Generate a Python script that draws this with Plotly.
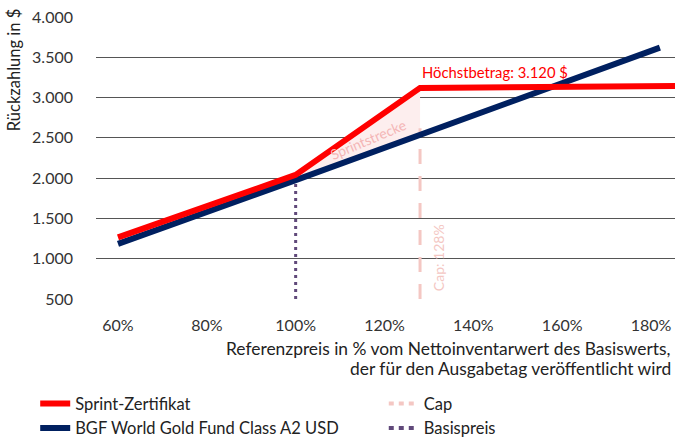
import plotly.graph_objects as go

# ---- data ----
sprint_x = [60, 100, 128, 185.4]
sprint_y = [1265, 2040, 3120, 3145]

fund_x = [60, 100, 182]
fund_y = [1185, 1975, 3620]

cap_level = 128
cap_y = [500, 2620]
basis_level = 100
basis_y = [500, 1975]

fill_x = [100, 128, 128, 100]
fill_y = [2040, 3120, 2538, 1975]

x_ticks = [60, 80, 100, 120, 140, 160, 180]
x_ticktext = ["60%", "80%", "100%", "120%", "140%", "160%", "180%"]
y_ticks = [500, 1000, 1500, 2000, 2500, 3000, 3500, 4000]
y_ticktext = ["500", "1.000", "1.500", "2.000", "2.500", "3.000", "3.500", "4.000"]

FONT = "Lato"
RED = "#ff0000"
NAVY = "#002060"
PINK = "#f4c7c3"
PURPLE = "#60497a"

fig = go.Figure()

fig.add_trace(go.Scatter(x=fill_x, y=fill_y, fill="toself", fillcolor="#fdeeee",
                         line=dict(width=0), mode="lines", showlegend=False, hoverinfo="skip"))
fig.add_trace(go.Scatter(x=[cap_level, cap_level], y=cap_y, mode="lines",
                         line=dict(color=PINK, width=3, dash="15px,12px"), showlegend=False))
fig.add_trace(go.Scatter(x=[basis_level, basis_level], y=basis_y, mode="lines",
                         line=dict(color=PURPLE, width=3, dash="3px,4px"), showlegend=False))
fig.add_trace(go.Scatter(x=fund_x, y=fund_y, mode="lines", name="BGF World Gold Fund Class A2 USD",
                         line=dict(color=NAVY, width=6), legend="legend", legendrank=2))
fig.add_trace(go.Scatter(x=sprint_x, y=sprint_y, mode="lines", name="Sprint-Zertifikat",
                         line=dict(color=RED, width=6), legend="legend", legendrank=1))
fig.add_trace(go.Scatter(x=[None], y=[None], mode="lines", name="Cap",
                         line=dict(color=PINK, width=4, dash="5px,5px"), legend="legend2", legendrank=1))
fig.add_trace(go.Scatter(x=[None], y=[None], mode="lines", name="Basispreis",
                         line=dict(color=PURPLE, width=4, dash="5px,5px"), legend="legend2", legendrank=2))

fig.update_layout(
    width=675, height=441,
    margin=dict(l=96, r=0, t=17, b=142),
    paper_bgcolor="white", plot_bgcolor="white",
    font=dict(family=FONT, size=15, color="#333333"),
    xaxis=dict(range=[55.05, 185.4], tickvals=x_ticks, ticktext=x_ticktext,
               showgrid=False, zeroline=False, showline=False,
               ticklabelstandoff=15, tickfont=dict(size=16, color="#333333")),
    yaxis=dict(range=[500, 4000], tickvals=y_ticks, ticktext=y_ticktext,
               showgrid=True, gridcolor="#555555", gridwidth=1, zeroline=False,
               showline=False, ticklabelstandoff=22, tickfont=dict(size=16, color="#333333")),
    legend=dict(xref="paper", yref="container", x=-0.105, y=0.124,
                xanchor="left", yanchor="top", orientation="v",
                font=dict(size=16.5, color="#222222"), bgcolor="rgba(0,0,0,0)", traceorder="normal"),
    legend2=dict(xref="paper", yref="container", x=0.497, y=0.124,
                 xanchor="left", yanchor="top", orientation="v",
                 font=dict(size=16.5, color="#222222"), bgcolor="rgba(0,0,0,0)", traceorder="normal"),
    showlegend=True,
)

fig.add_annotation(text="Rückzahlung in $", textangle=-90, xref="paper", yref="paper",
                   x=-0.1416, y=1.035, xanchor="center", yanchor="top", showarrow=False,
                   font=dict(size=16.5, color="#222222"))
fig.add_annotation(text="Referenzpreis in % vom Nettoinventarwert des Basiswerts,",
                   xref="paper", yref="paper", x=0.996, y=-0.1738, xanchor="right", yanchor="middle",
                   showarrow=False, font=dict(size=17.4, color="#222222"))
fig.add_annotation(text="der für den Ausgabetag veröffentlicht wird",
                   xref="paper", yref="paper", x=0.996, y=-0.2447, xanchor="right", yanchor="middle",
                   showarrow=False, font=dict(size=17.4, color="#222222"))
fig.add_annotation(text="Höchstbetrag: 3.120 $", x=cap_level, y=3317, xanchor="left", yanchor="middle",
                   showarrow=False, font=dict(size=14.8, color=RED))
fig.add_annotation(text="Sprintstrecke", x=116.3, y=2474, textangle=-23, showarrow=False,
                   font=dict(size=14, color="#f4b6b6"))
fig.add_annotation(text="Cap: 128%", x=132.3, y=1009, textangle=-90, showarrow=False,
                   font=dict(size=14, color=PINK))

fig.write_html("out.html", config={"displayModeBar": False},
               post_script="document.body.style.margin='0';document.body.style.overflow='hidden';")
